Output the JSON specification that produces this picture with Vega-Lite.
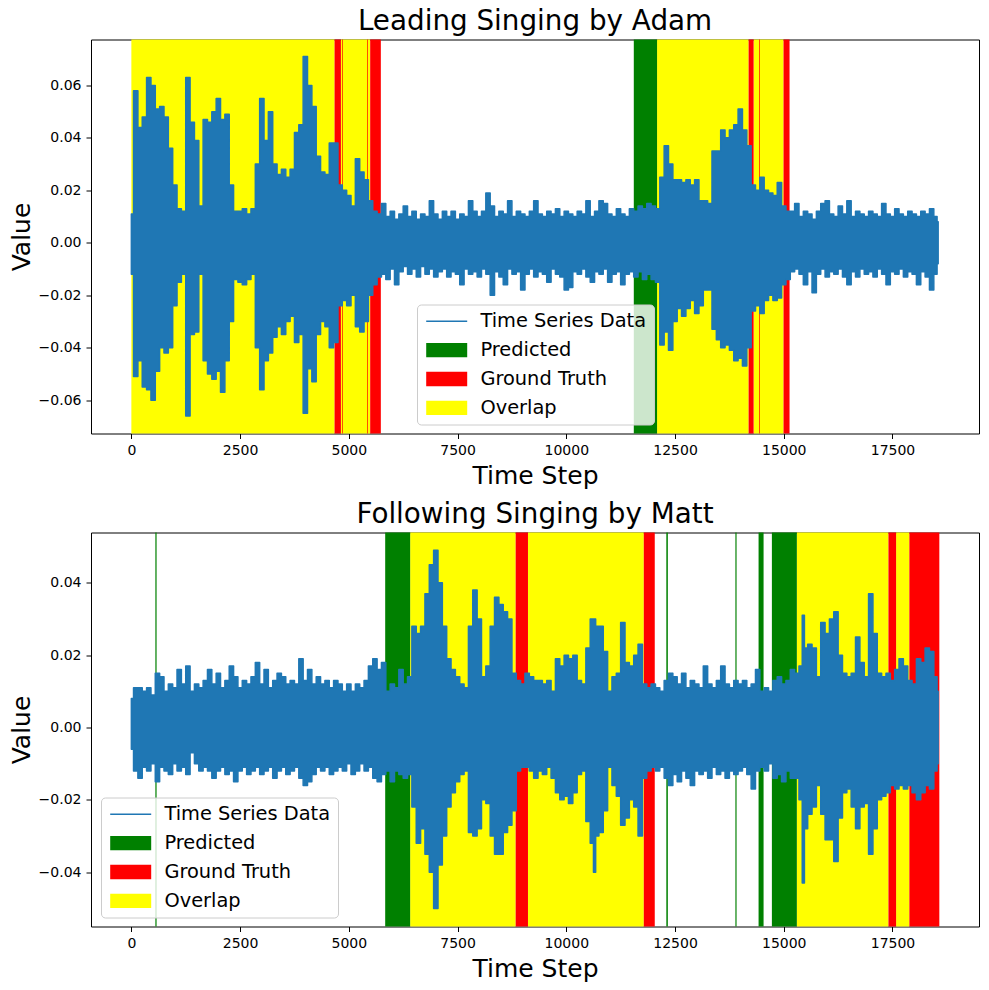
{
  "$schema": "https://vega.github.io/schema/vega-lite/v6.json",
  "background": "white",
  "padding": {"left": 8, "top": 7.5, "right": 9, "bottom": 10},
  "spacing": 99,
  "bounds": "flush",
  "datasets": {
    "spansA": [
      {"s": 0, "e": 4672, "kind": "Overlap"},
      {"s": 4818, "e": 5491, "kind": "Overlap"},
      {"s": 12087, "e": 14192, "kind": "Overlap"},
      {"s": 14307, "e": 14995, "kind": "Overlap"},
      {"s": 4672, "e": 4818, "kind": "Ground Truth"},
      {"s": 4848, "e": 4864, "kind": "Ground Truth"},
      {"s": 5422, "e": 5438, "kind": "Ground Truth"},
      {"s": 5491, "e": 5736, "kind": "Ground Truth"},
      {"s": 14192, "e": 14307, "kind": "Ground Truth"},
      {"s": 14436, "e": 14452, "kind": "Ground Truth"},
      {"s": 14995, "e": 15133, "kind": "Ground Truth"},
      {"s": 11552, "e": 12087, "kind": "Predicted"}
    ],
    "spansB": [
      {"s": 6410, "e": 8836, "kind": "Overlap"},
      {"s": 9119, "e": 11782, "kind": "Overlap"},
      {"s": 15301, "e": 17407, "kind": "Overlap"},
      {"s": 17583, "e": 17888, "kind": "Overlap"},
      {"s": 8836, "e": 9119, "kind": "Ground Truth"},
      {"s": 11782, "e": 12034, "kind": "Ground Truth"},
      {"s": 17407, "e": 17583, "kind": "Ground Truth"},
      {"s": 17888, "e": 18577, "kind": "Ground Truth"},
      {"s": 552, "e": 580, "kind": "Predicted"},
      {"s": 5836, "e": 6410, "kind": "Predicted"},
      {"s": 12300, "e": 12335, "kind": "Predicted"},
      {"s": 13888, "e": 13915, "kind": "Predicted"},
      {"s": 14421, "e": 14536, "kind": "Predicted"},
      {"s": 14727, "e": 15301, "kind": "Predicted"}
    ],
    "sigA": [
      {"t":0,"hi":0.011,"lo":-0.012},{"t":100,"hi":0.058,"lo":-0.051},{"t":200,"hi":0.044,"lo":-0.045},{"t":300,"hi":0.048,"lo":-0.055},
      {"t":400,"hi":0.063,"lo":-0.056},{"t":500,"hi":0.060,"lo":-0.060},{"t":600,"hi":0.051,"lo":-0.049},{"t":700,"hi":0.052,"lo":-0.040},
      {"t":800,"hi":0.048,"lo":-0.042},{"t":900,"hi":0.036,"lo":-0.040},{"t":1000,"hi":0.022,"lo":-0.024},{"t":1100,"hi":0.013,"lo":-0.015},
      {"t":1200,"hi":0.012,"lo":-0.012},{"t":1300,"hi":0.063,"lo":-0.066},{"t":1400,"hi":0.046,"lo":-0.035},{"t":1500,"hi":0.039,"lo":-0.034},
      {"t":1600,"hi":0.014,"lo":-0.012},{"t":1700,"hi":0.047,"lo":-0.045},{"t":1800,"hi":0.046,"lo":-0.050},{"t":1900,"hi":0.050,"lo":-0.052},
      {"t":2000,"hi":0.055,"lo":-0.049},{"t":2100,"hi":0.047,"lo":-0.057},{"t":2200,"hi":0.049,"lo":-0.045},{"t":2300,"hi":0.022,"lo":-0.030},
      {"t":2400,"hi":0.012,"lo":-0.014},{"t":2500,"hi":0.012,"lo":-0.015},{"t":2600,"hi":0.013,"lo":-0.016},{"t":2700,"hi":0.011,"lo":-0.014},
      {"t":2800,"hi":0.013,"lo":-0.012},{"t":2900,"hi":0.030,"lo":-0.040},{"t":3000,"hi":0.055,"lo":-0.056},{"t":3100,"hi":0.039,"lo":-0.045},
      {"t":3200,"hi":0.050,"lo":-0.042},{"t":3300,"hi":0.030,"lo":-0.036},{"t":3400,"hi":0.026,"lo":-0.032},{"t":3500,"hi":0.028,"lo":-0.035},
      {"t":3600,"hi":0.025,"lo":-0.030},{"t":3700,"hi":0.028,"lo":-0.028},{"t":3800,"hi":0.042,"lo":-0.038},{"t":3900,"hi":0.045,"lo":-0.035},
      {"t":4000,"hi":0.071,"lo":-0.065},{"t":4100,"hi":0.060,"lo":-0.048},{"t":4200,"hi":0.052,"lo":-0.053},{"t":4300,"hi":0.033,"lo":-0.035},
      {"t":4400,"hi":0.027,"lo":-0.030},{"t":4500,"hi":0.026,"lo":-0.032},{"t":4600,"hi":0.038,"lo":-0.040},{"t":4700,"hi":0.038,"lo":-0.038},
      {"t":4800,"hi":0.022,"lo":-0.024},{"t":4900,"hi":0.020,"lo":-0.022},{"t":5000,"hi":0.018,"lo":-0.024},{"t":5100,"hi":0.014,"lo":-0.020},
      {"t":5200,"hi":0.032,"lo":-0.032},{"t":5300,"hi":0.027,"lo":-0.034},{"t":5400,"hi":0.024,"lo":-0.030},{"t":5500,"hi":0.016,"lo":-0.020},
      {"t":5600,"hi":0.012,"lo":-0.016},{"t":5700,"hi":0.011,"lo":-0.013},{"t":5800,"hi":0.015,"lo":-0.012},{"t":5900,"hi":0.010,"lo":-0.014},
      {"t":6000,"hi":0.012,"lo":-0.010},{"t":6100,"hi":0.009,"lo":-0.016},{"t":6200,"hi":0.011,"lo":-0.011},{"t":6300,"hi":0.014,"lo":-0.009},
      {"t":6400,"hi":0.010,"lo":-0.012},{"t":6500,"hi":0.012,"lo":-0.010},{"t":6600,"hi":0.009,"lo":-0.013},{"t":6700,"hi":0.011,"lo":-0.009},
      {"t":6800,"hi":0.010,"lo":-0.012},{"t":6900,"hi":0.016,"lo":-0.010},{"t":7000,"hi":0.011,"lo":-0.013},{"t":7100,"hi":0.009,"lo":-0.011},
      {"t":7200,"hi":0.012,"lo":-0.010},{"t":7300,"hi":0.010,"lo":-0.013},{"t":7400,"hi":0.012,"lo":-0.011},{"t":7500,"hi":0.009,"lo":-0.012},
      {"t":7600,"hi":0.011,"lo":-0.016},{"t":7700,"hi":0.010,"lo":-0.010},{"t":7800,"hi":0.016,"lo":-0.012},{"t":7900,"hi":0.012,"lo":-0.011},
      {"t":8000,"hi":0.010,"lo":-0.013},{"t":8100,"hi":0.012,"lo":-0.010},{"t":8200,"hi":0.019,"lo":-0.012},{"t":8300,"hi":0.014,"lo":-0.020},
      {"t":8400,"hi":0.010,"lo":-0.011},{"t":8500,"hi":0.012,"lo":-0.013},{"t":8600,"hi":0.011,"lo":-0.016},{"t":8700,"hi":0.016,"lo":-0.010},
      {"t":8800,"hi":0.010,"lo":-0.012},{"t":8900,"hi":0.012,"lo":-0.011},{"t":9000,"hi":0.011,"lo":-0.018},{"t":9100,"hi":0.010,"lo":-0.012},
      {"t":9200,"hi":0.012,"lo":-0.010},{"t":9300,"hi":0.016,"lo":-0.013},{"t":9400,"hi":0.011,"lo":-0.011},{"t":9500,"hi":0.010,"lo":-0.012},
      {"t":9600,"hi":0.012,"lo":-0.015},{"t":9700,"hi":0.011,"lo":-0.010},{"t":9800,"hi":0.013,"lo":-0.012},{"t":9900,"hi":0.010,"lo":-0.013},
      {"t":10000,"hi":0.012,"lo":-0.018},{"t":10100,"hi":0.011,"lo":-0.017},{"t":10200,"hi":0.010,"lo":-0.011},{"t":10300,"hi":0.012,"lo":-0.012},
      {"t":10400,"hi":0.011,"lo":-0.010},{"t":10500,"hi":0.016,"lo":-0.013},{"t":10600,"hi":0.010,"lo":-0.015},{"t":10700,"hi":0.012,"lo":-0.011},
      {"t":10800,"hi":0.016,"lo":-0.012},{"t":10900,"hi":0.015,"lo":-0.010},{"t":11000,"hi":0.011,"lo":-0.015},{"t":11100,"hi":0.010,"lo":-0.012},
      {"t":11200,"hi":0.013,"lo":-0.011},{"t":11300,"hi":0.011,"lo":-0.016},{"t":11400,"hi":0.010,"lo":-0.012},{"t":11500,"hi":0.013,"lo":-0.011},
      {"t":11600,"hi":0.012,"lo":-0.013},{"t":11700,"hi":0.014,"lo":-0.011},{"t":11800,"hi":0.013,"lo":-0.014},{"t":11900,"hi":0.015,"lo":-0.012},
      {"t":12000,"hi":0.014,"lo":-0.014},{"t":12100,"hi":0.013,"lo":-0.015},{"t":12200,"hi":0.025,"lo":-0.039},{"t":12300,"hi":0.037,"lo":-0.034},
      {"t":12400,"hi":0.030,"lo":-0.041},{"t":12500,"hi":0.024,"lo":-0.030},{"t":12600,"hi":0.024,"lo":-0.025},{"t":12700,"hi":0.023,"lo":-0.028},
      {"t":12800,"hi":0.024,"lo":-0.025},{"t":12900,"hi":0.022,"lo":-0.022},{"t":13000,"hi":0.024,"lo":-0.027},{"t":13100,"hi":0.016,"lo":-0.024},
      {"t":13200,"hi":0.016,"lo":-0.018},{"t":13300,"hi":0.015,"lo":-0.018},{"t":13400,"hi":0.035,"lo":-0.033},{"t":13500,"hi":0.035,"lo":-0.037},
      {"t":13600,"hi":0.043,"lo":-0.040},{"t":13700,"hi":0.040,"lo":-0.039},{"t":13800,"hi":0.043,"lo":-0.041},{"t":13900,"hi":0.045,"lo":-0.045},
      {"t":14000,"hi":0.051,"lo":-0.044},{"t":14100,"hi":0.043,"lo":-0.047},{"t":14200,"hi":0.037,"lo":-0.040},{"t":14300,"hi":0.022,"lo":-0.026},
      {"t":14400,"hi":0.020,"lo":-0.024},{"t":14500,"hi":0.025,"lo":-0.027},{"t":14600,"hi":0.020,"lo":-0.022},{"t":14700,"hi":0.019,"lo":-0.020},
      {"t":14800,"hi":0.018,"lo":-0.022},{"t":14900,"hi":0.023,"lo":-0.021},{"t":15000,"hi":0.014,"lo":-0.016},{"t":15100,"hi":0.012,"lo":-0.014},
      {"t":15200,"hi":0.012,"lo":-0.011},{"t":15300,"hi":0.015,"lo":-0.010},{"t":15400,"hi":0.010,"lo":-0.012},{"t":15500,"hi":0.012,"lo":-0.016},
      {"t":15600,"hi":0.011,"lo":-0.011},{"t":15700,"hi":0.009,"lo":-0.019},{"t":15800,"hi":0.012,"lo":-0.012},{"t":15900,"hi":0.015,"lo":-0.010},
      {"t":16000,"hi":0.016,"lo":-0.013},{"t":16100,"hi":0.011,"lo":-0.011},{"t":16200,"hi":0.010,"lo":-0.012},{"t":16300,"hi":0.014,"lo":-0.010},
      {"t":16400,"hi":0.011,"lo":-0.013},{"t":16500,"hi":0.016,"lo":-0.016},{"t":16600,"hi":0.010,"lo":-0.011},{"t":16700,"hi":0.012,"lo":-0.013},
      {"t":16800,"hi":0.011,"lo":-0.010},{"t":16900,"hi":0.010,"lo":-0.012},{"t":17000,"hi":0.012,"lo":-0.011},{"t":17100,"hi":0.011,"lo":-0.013},
      {"t":17200,"hi":0.010,"lo":-0.010},{"t":17300,"hi":0.015,"lo":-0.012},{"t":17400,"hi":0.011,"lo":-0.016},{"t":17500,"hi":0.010,"lo":-0.011},
      {"t":17600,"hi":0.013,"lo":-0.012},{"t":17700,"hi":0.011,"lo":-0.010},{"t":17800,"hi":0.010,"lo":-0.013},{"t":17900,"hi":0.012,"lo":-0.011},
      {"t":18000,"hi":0.011,"lo":-0.012},{"t":18100,"hi":0.010,"lo":-0.016},{"t":18200,"hi":0.012,"lo":-0.011},{"t":18300,"hi":0.011,"lo":-0.013},
      {"t":18400,"hi":0.013,"lo":-0.018},{"t":18500,"hi":0.010,"lo":-0.012},{"t":18550,"hi":0.008,"lo":-0.008}
    ],
    "sigB": [
      {"t":0,"hi":0.008,"lo":-0.006},{"t":100,"hi":0.011,"lo":-0.012},{"t":200,"hi":0.011,"lo":-0.014},{"t":300,"hi":0.010,"lo":-0.011},
      {"t":400,"hi":0.011,"lo":-0.012},{"t":500,"hi":0.009,"lo":-0.010},{"t":600,"hi":0.015,"lo":-0.015},{"t":700,"hi":0.014,"lo":-0.011},
      {"t":800,"hi":0.010,"lo":-0.012},{"t":900,"hi":0.012,"lo":-0.013},{"t":1000,"hi":0.011,"lo":-0.010},{"t":1100,"hi":0.016,"lo":-0.012},
      {"t":1200,"hi":0.012,"lo":-0.011},{"t":1300,"hi":0.017,"lo":-0.013},{"t":1400,"hi":0.010,"lo":-0.007},{"t":1500,"hi":0.012,"lo":-0.010},
      {"t":1600,"hi":0.011,"lo":-0.012},{"t":1700,"hi":0.013,"lo":-0.011},{"t":1800,"hi":0.016,"lo":-0.012},{"t":1900,"hi":0.012,"lo":-0.014},
      {"t":2000,"hi":0.015,"lo":-0.012},{"t":2100,"hi":0.011,"lo":-0.011},{"t":2200,"hi":0.013,"lo":-0.013},{"t":2300,"hi":0.017,"lo":-0.012},
      {"t":2400,"hi":0.014,"lo":-0.015},{"t":2500,"hi":0.011,"lo":-0.012},{"t":2600,"hi":0.013,"lo":-0.011},{"t":2700,"hi":0.012,"lo":-0.013},
      {"t":2800,"hi":0.014,"lo":-0.012},{"t":2900,"hi":0.018,"lo":-0.011},{"t":3000,"hi":0.012,"lo":-0.013},{"t":3100,"hi":0.016,"lo":-0.012},
      {"t":3200,"hi":0.011,"lo":-0.011},{"t":3300,"hi":0.013,"lo":-0.014},{"t":3400,"hi":0.015,"lo":-0.012},{"t":3500,"hi":0.014,"lo":-0.011},
      {"t":3600,"hi":0.012,"lo":-0.013},{"t":3700,"hi":0.013,"lo":-0.012},{"t":3800,"hi":0.012,"lo":-0.011},{"t":3900,"hi":0.019,"lo":-0.014},
      {"t":4000,"hi":0.013,"lo":-0.016},{"t":4100,"hi":0.016,"lo":-0.015},{"t":4200,"hi":0.012,"lo":-0.013},{"t":4300,"hi":0.014,"lo":-0.011},
      {"t":4400,"hi":0.012,"lo":-0.012},{"t":4500,"hi":0.013,"lo":-0.011},{"t":4600,"hi":0.011,"lo":-0.013},{"t":4700,"hi":0.013,"lo":-0.012},
      {"t":4800,"hi":0.012,"lo":-0.011},{"t":4900,"hi":0.010,"lo":-0.012},{"t":5000,"hi":0.012,"lo":-0.010},{"t":5100,"hi":0.010,"lo":-0.013},
      {"t":5200,"hi":0.012,"lo":-0.012},{"t":5300,"hi":0.011,"lo":-0.010},{"t":5400,"hi":0.013,"lo":-0.012},{"t":5500,"hi":0.017,"lo":-0.011},
      {"t":5600,"hi":0.019,"lo":-0.014},{"t":5700,"hi":0.016,"lo":-0.015},{"t":5800,"hi":0.018,"lo":-0.013},{"t":5900,"hi":0.010,"lo":-0.012},
      {"t":6000,"hi":0.012,"lo":-0.015},{"t":6100,"hi":0.011,"lo":-0.012},{"t":6200,"hi":0.016,"lo":-0.013},{"t":6300,"hi":0.012,"lo":-0.014},
      {"t":6400,"hi":0.014,"lo":-0.013},{"t":6500,"hi":0.028,"lo":-0.022},{"t":6600,"hi":0.026,"lo":-0.032},{"t":6700,"hi":0.028,"lo":-0.028},
      {"t":6800,"hi":0.037,"lo":-0.035},{"t":6900,"hi":0.045,"lo":-0.040},{"t":7000,"hi":0.049,"lo":-0.050},{"t":7100,"hi":0.040,"lo":-0.038},
      {"t":7200,"hi":0.028,"lo":-0.030},{"t":7300,"hi":0.019,"lo":-0.022},{"t":7400,"hi":0.016,"lo":-0.018},{"t":7500,"hi":0.014,"lo":-0.015},
      {"t":7600,"hi":0.012,"lo":-0.013},{"t":7700,"hi":0.011,"lo":-0.012},{"t":7800,"hi":0.028,"lo":-0.029},{"t":7900,"hi":0.038,"lo":-0.030},
      {"t":8000,"hi":0.030,"lo":-0.028},{"t":8100,"hi":0.014,"lo":-0.020},{"t":8200,"hi":0.017,"lo":-0.021},{"t":8300,"hi":0.028,"lo":-0.030},
      {"t":8400,"hi":0.036,"lo":-0.035},{"t":8500,"hi":0.034,"lo":-0.035},{"t":8600,"hi":0.032,"lo":-0.029},{"t":8700,"hi":0.030,"lo":-0.027},
      {"t":8800,"hi":0.015,"lo":-0.023},{"t":8900,"hi":0.013,"lo":-0.012},{"t":9000,"hi":0.012,"lo":-0.011},{"t":9100,"hi":0.015,"lo":-0.011},
      {"t":9200,"hi":0.014,"lo":-0.012},{"t":9300,"hi":0.013,"lo":-0.014},{"t":9400,"hi":0.013,"lo":-0.012},{"t":9500,"hi":0.012,"lo":-0.013},
      {"t":9600,"hi":0.013,"lo":-0.011},{"t":9700,"hi":0.010,"lo":-0.014},{"t":9800,"hi":0.019,"lo":-0.018},{"t":9900,"hi":0.017,"lo":-0.020},
      {"t":10000,"hi":0.020,"lo":-0.019},{"t":10100,"hi":0.019,"lo":-0.021},{"t":10200,"hi":0.020,"lo":-0.018},{"t":10300,"hi":0.013,"lo":-0.013},
      {"t":10400,"hi":0.012,"lo":-0.012},{"t":10500,"hi":0.022,"lo":-0.026},{"t":10600,"hi":0.030,"lo":-0.032},{"t":10650,"hi":0.030,"lo":-0.040},
      {"t":10700,"hi":0.028,"lo":-0.030},{"t":10800,"hi":0.028,"lo":-0.029},{"t":10900,"hi":0.021,"lo":-0.023},{"t":11000,"hi":0.010,"lo":-0.011},
      {"t":11100,"hi":0.014,"lo":-0.016},{"t":11200,"hi":0.015,"lo":-0.019},{"t":11300,"hi":0.029,"lo":-0.027},{"t":11400,"hi":0.018,"lo":-0.025},
      {"t":11500,"hi":0.017,"lo":-0.020},{"t":11600,"hi":0.020,"lo":-0.022},{"t":11700,"hi":0.023,"lo":-0.030},{"t":11800,"hi":0.012,"lo":-0.014},
      {"t":11900,"hi":0.011,"lo":-0.012},{"t":12000,"hi":0.012,"lo":-0.011},{"t":12100,"hi":0.011,"lo":-0.012},{"t":12200,"hi":0.010,"lo":-0.011},
      {"t":12300,"hi":0.013,"lo":-0.014},{"t":12400,"hi":0.015,"lo":-0.016},{"t":12500,"hi":0.014,"lo":-0.013},{"t":12600,"hi":0.012,"lo":-0.015},
      {"t":12700,"hi":0.015,"lo":-0.012},{"t":12800,"hi":0.011,"lo":-0.014},{"t":12900,"hi":0.013,"lo":-0.016},{"t":13000,"hi":0.012,"lo":-0.012},
      {"t":13100,"hi":0.011,"lo":-0.013},{"t":13200,"hi":0.017,"lo":-0.012},{"t":13300,"hi":0.012,"lo":-0.014},{"t":13400,"hi":0.011,"lo":-0.011},
      {"t":13500,"hi":0.013,"lo":-0.013},{"t":13600,"hi":0.017,"lo":-0.012},{"t":13700,"hi":0.012,"lo":-0.014},{"t":13800,"hi":0.011,"lo":-0.012},
      {"t":13900,"hi":0.013,"lo":-0.013},{"t":14000,"hi":0.012,"lo":-0.012},{"t":14100,"hi":0.013,"lo":-0.011},{"t":14200,"hi":0.011,"lo":-0.013},
      {"t":14300,"hi":0.012,"lo":-0.017},{"t":14400,"hi":0.016,"lo":-0.012},{"t":14500,"hi":0.010,"lo":-0.011},{"t":14600,"hi":0.011,"lo":-0.012},
      {"t":14700,"hi":0.010,"lo":-0.010},{"t":14800,"hi":0.013,"lo":-0.014},{"t":14900,"hi":0.014,"lo":-0.013},{"t":15000,"hi":0.012,"lo":-0.015},
      {"t":15100,"hi":0.013,"lo":-0.012},{"t":15200,"hi":0.016,"lo":-0.014},{"t":15300,"hi":0.015,"lo":-0.014},{"t":15400,"hi":0.017,"lo":-0.020},
      {"t":15450,"hi":0.031,"lo":-0.043},{"t":15500,"hi":0.022,"lo":-0.028},{"t":15600,"hi":0.023,"lo":-0.024},{"t":15700,"hi":0.022,"lo":-0.022},
      {"t":15800,"hi":0.014,"lo":-0.016},{"t":15900,"hi":0.029,"lo":-0.024},{"t":16000,"hi":0.026,"lo":-0.031},{"t":16100,"hi":0.030,"lo":-0.031},
      {"t":16200,"hi":0.032,"lo":-0.037},{"t":16300,"hi":0.020,"lo":-0.025},{"t":16400,"hi":0.015,"lo":-0.018},{"t":16500,"hi":0.014,"lo":-0.017},
      {"t":16600,"hi":0.015,"lo":-0.022},{"t":16700,"hi":0.025,"lo":-0.028},{"t":16800,"hi":0.018,"lo":-0.022},{"t":16900,"hi":0.014,"lo":-0.021},
      {"t":17000,"hi":0.037,"lo":-0.035},{"t":17100,"hi":0.026,"lo":-0.028},{"t":17200,"hi":0.015,"lo":-0.020},{"t":17300,"hi":0.014,"lo":-0.019},
      {"t":17400,"hi":0.015,"lo":-0.018},{"t":17500,"hi":0.013,"lo":-0.016},{"t":17600,"hi":0.016,"lo":-0.017},{"t":17700,"hi":0.019,"lo":-0.016},
      {"t":17800,"hi":0.017,"lo":-0.017},{"t":17900,"hi":0.013,"lo":-0.016},{"t":18000,"hi":0.012,"lo":-0.018},{"t":18100,"hi":0.019,"lo":-0.020},
      {"t":18200,"hi":0.018,"lo":-0.018},{"t":18300,"hi":0.022,"lo":-0.016},{"t":18400,"hi":0.021,"lo":-0.017},{"t":18500,"hi":0.014,"lo":-0.012},
      {"t":18550,"hi":0.010,"lo":-0.010}
    ]
  },
  "vconcat": [
    {
      "width": 888,
      "height": 394,
      "title": {"text": "Leading Singing by Adam"},
      "layer": [
        {
          "data": {"name": "spansA"},
          "mark": {"type": "rect"},
          "encoding": {
            "x": {"field": "s", "type": "quantitative", "scale": {"domain": [-928, 19489], "nice": false, "zero": false},
                  "axis": {"title": "Time Step", "values": [0, 2500, 5000, 7500, 10000, 12500, 15000, 17500], "format": "d"}},
            "x2": {"field": "e"},
            "color": {
              "field": "kind", "type": "nominal",
              "scale": {"domain": ["Time Series Data", "Predicted", "Ground Truth", "Overlap"], "range": ["rgba(0,0,0,0)", "#008000", "#ff0000", "#ffff00"]},
              "legend": {
                "title": null, "orient": "none", "legendX": 326, "legendY": 265,
                "symbolType": "M-1,-0.96H4.467V0.96H-1Z", "symbolSize": 225, "symbolStrokeWidth": 0,
                "labelOffset": 37, "rowPadding": 7.9, "padding": 7,
                "fillColor": "rgba(255,255,255,0.8)", "strokeColor": "#cccccc", "cornerRadius": 4
              }
            }
          }
        },
        {
          "data": {"name": "sigA"},
          "mark": {"type": "area", "color": "#1f77b4", "strokeWidth": 1.5, "strokeJoin": "round", "interpolate": "step"},
          "encoding": {
            "x": {"field": "t", "type": "quantitative", "axis": {"title": "Time Step", "values": [0, 2500, 5000, 7500, 10000, 12500, 15000, 17500], "format": "d"}},
            "y": {"field": "lo", "type": "quantitative", "scale": {"domain": [-0.0727, 0.0775], "nice": false, "zero": false},
                  "axis": {"title": "Value", "values": [-0.06, -0.04, -0.02, 0, 0.02, 0.04, 0.06], "format": ".2f"}},
            "y2": {"field": "hi"},
            "stroke": {
              "datum": "Time Series Data", "type": "nominal",
              "scale": {"domain": ["Time Series Data"], "range": ["#1f77b4"]},
              "legend": {
                "title": null, "orient": "none", "legendX": 326, "legendY": 265,
                "symbolType": "M-1,0H4.467", "symbolSize": 225, "symbolStrokeWidth": 1.5,
                "labelOffset": 37, "rowPadding": 7.9, "padding": 7, "labelColor": "rgba(0,0,0,0)"
              }
            }
          }
        }
      ]
    },
    {
      "width": 888,
      "height": 394,
      "title": {"text": "Following Singing by Matt"},
      "layer": [
        {
          "data": {"name": "spansB"},
          "mark": {"type": "rect"},
          "encoding": {
            "x": {"field": "s", "type": "quantitative", "scale": {"domain": [-928, 19489], "nice": false, "zero": false},
                  "axis": {"title": "Time Step", "values": [0, 2500, 5000, 7500, 10000, 12500, 15000, 17500], "format": "d"}},
            "x2": {"field": "e"},
            "color": {
              "field": "kind", "type": "nominal",
              "scale": {"domain": ["Time Series Data", "Predicted", "Ground Truth", "Overlap"], "range": ["rgba(0,0,0,0)", "#008000", "#ff0000", "#ffff00"]},
              "legend": {
                "title": null, "orient": "none", "legendX": 10, "legendY": 265,
                "symbolType": "M-1,-0.96H4.467V0.96H-1Z", "symbolSize": 225, "symbolStrokeWidth": 0,
                "labelOffset": 37, "rowPadding": 7.9, "padding": 7,
                "fillColor": "rgba(255,255,255,0.8)", "strokeColor": "#cccccc", "cornerRadius": 4
              }
            }
          }
        },
        {
          "data": {"name": "sigB"},
          "mark": {"type": "area", "color": "#1f77b4", "strokeWidth": 1.5, "strokeJoin": "round", "interpolate": "step"},
          "encoding": {
            "x": {"field": "t", "type": "quantitative", "axis": {"title": "Time Step", "values": [0, 2500, 5000, 7500, 10000, 12500, 15000, 17500], "format": "d"}},
            "y": {"field": "lo", "type": "quantitative", "scale": {"domain": [-0.0550, 0.0539], "nice": false, "zero": false},
                  "axis": {"title": "Value", "values": [-0.04, -0.02, 0, 0.02, 0.04], "format": ".2f"}},
            "y2": {"field": "hi"},
            "stroke": {
              "datum": "Time Series Data", "type": "nominal",
              "scale": {"domain": ["Time Series Data"], "range": ["#1f77b4"]},
              "legend": {
                "title": null, "orient": "none", "legendX": 10, "legendY": 265,
                "symbolType": "M-1,0H4.467", "symbolSize": 225, "symbolStrokeWidth": 1.5,
                "labelOffset": 37, "rowPadding": 7.9, "padding": 7, "labelColor": "rgba(0,0,0,0)"
              }
            }
          }
        }
      ]
    }
  ],
  "resolve": {
    "scale": {"x": "independent", "y": "independent", "color": "independent", "stroke": "independent"},
    "legend": {"color": "independent", "stroke": "independent"}
  },
  "config": {
    "font": "DejaVu Sans",
    "view": {"stroke": "black", "strokeWidth": 1},
    "axis": {
      "domain": false, "grid": false,
      "tickColor": "black", "tickSize": 5, "tickWidth": 1,
      "labelColor": "black", "labelFont": "DejaVu Sans", "labelFontSize": 14, "labelPadding": 5,
      "titleColor": "black", "titleFont": "DejaVu Sans", "titleFontSize": 25, "titleFontWeight": "normal"
    },
    "axisX": {"titleY": 29.5, "titleBaseline": "top"},
    "axisY": {"titleX": -62, "titleBaseline": "alphabetic"},
    "title": {"font": "DejaVu Sans", "fontSize": 27.8, "fontWeight": "normal", "color": "black", "anchor": "middle", "frame": "group", "baseline": "alphabetic", "offset": 3.5},
    "legend": {"labelFont": "DejaVu Sans", "labelFontSize": 19.4, "labelColor": "black", "labelLimit": 300}
  }
}
